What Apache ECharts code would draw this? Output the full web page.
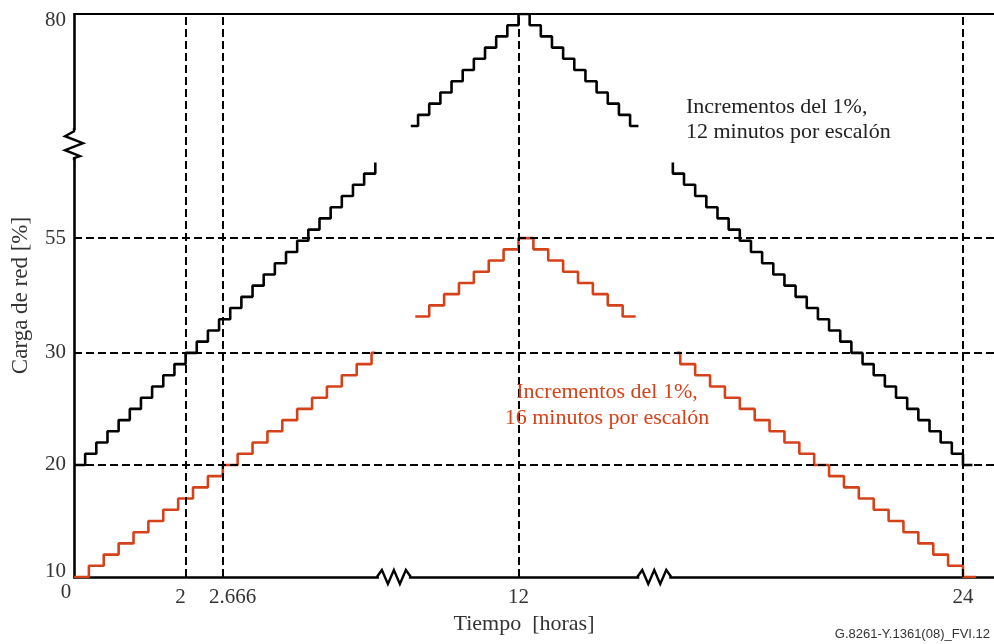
<!DOCTYPE html>
<html>
<head>
<meta charset="utf-8">
<script src="https://cdn.jsdelivr.net/npm/echarts@6/dist/echarts.min.js"></script>
<style>
html, body { margin: 0; padding: 0; background: #fff; }
#chart { width: 994px; height: 644px; }
</style>
</head>
<body>
<div id="chart"></div>
<script>
// black profile: 1 % steps every 12 min (hours, % load)
const blackRiseHours = [0, 0.2, 0.4, 0.6, 0.8, 1, 1.2, 1.4, 1.6, 1.8, 2, 2.2, 2.4, 2.6, 2.8, 3, 3.2, 3.4, 3.6, 3.8, 4, 4.2, 4.4, 4.6, 4.8, 5, 5.2, 5.4];
const blackRiseLoad = [20, 21, 22, 23, 24, 25, 26, 27, 28, 29, 30, 31, 32, 33, 34, 35, 36, 37, 38, 39, 40, 41, 42, 43, 44, 45, 46, 47];
const blackPeakHours = [10.07, 10.2, 10.4, 10.6, 10.8, 11, 11.2, 11.4, 11.6, 11.8, 12, 12.2, 12.4, 12.6, 12.8, 13, 13.2, 13.4, 13.6, 13.8, 14, 14.15];
const blackPeakLoad = [70, 71, 72, 73, 74, 75, 76, 77, 78, 79, 80, 79, 78, 77, 76, 75, 74, 73, 72, 71, 70, 70];
const blackFallHours = [18.8, 18.8, 19, 19.2, 19.4, 19.6, 19.8, 20, 20.2, 20.4, 20.6, 20.8, 21, 21.2, 21.4, 21.6, 21.8, 22, 22.2, 22.4, 22.6, 22.8, 23, 23.2, 23.4, 23.6, 23.8, 24, 24.17];
const blackFallLoad = [47, 46, 45, 44, 43, 42, 41, 40, 39, 38, 37, 36, 35, 34, 33, 32, 31, 30, 29, 28, 27, 26, 25, 24, 23, 22, 21, 20, 20];

// red profile: 1 % steps every 16 min
const redRiseHours = [0, 0.267, 0.533, 0.8, 1.067, 1.333, 1.6, 1.867, 2.133, 2.4, 2.667, 2.933, 3.2, 3.467, 3.733, 4, 4.267, 4.533, 4.8, 5.067, 5.333, 5.4];
const redRiseLoad = [10, 11, 12, 13, 14, 15, 16, 17, 18, 19, 20, 21, 22, 23, 24, 25, 26, 27, 28, 29, 30, 30];
const redPeakHours = [10.15, 10.4, 10.667, 10.933, 11.2, 11.467, 11.733, 12, 12.267, 12.533, 12.8, 13.067, 13.333, 13.6, 13.867, 14.1];
const redPeakLoad = [48, 49, 50, 51, 52, 53, 54, 55, 54, 53, 52, 51, 50, 49, 48, 48];
const redFallHours = [18.87, 18.933, 19.2, 19.467, 19.733, 20, 20.267, 20.533, 20.8, 21.067, 21.333, 21.6, 21.867, 22.133, 22.4, 22.667, 22.933, 23.2, 23.467, 23.733, 24, 24.23];
const redFallLoad = [30, 29, 28, 27, 26, 25, 24, 23, 22, 21, 20, 19, 18, 17, 16, 15, 14, 13, 12, 11, 10, 10];

// axis ticks and guide lines
const hourTicks = [0, 2, 2.666, 12, 24];
const blackLoadTicks = [10, 20, 30, 80];
const redLoadTicks = [55];
const hourGuides = [2, 2.666, 12, 24];
const blackLoadGuides = [20, 30];
const redLoadGuides = [55];

// compressed (broken) ranges
const hourBreaks = [[5.5, 10], [14.2, 18.7]];
const blackLoadBreak = [47.5, 69.5];
const redLoadBreak = [30.5, 47.5];

const SERIF = 'Liberation Serif, Times New Roman, serif';
const RED = '#d5421a';

const zip = (xs, ys) => xs.map((x, i) => [x, ys[i]]);

const chart = echarts.init(document.getElementById('chart'));

const dashed = { color: '#000', width: 2, type: [8, 4] };

const stepSeries = (name, hours, load, color, yIdx, guides) => ({
  name,
  type: 'line',
  step: 'end',
  yAxisIndex: yIdx,
  symbol: 'none',
  silent: true,
  animation: false,
  lineStyle: { color, width: 2.6 },
  data: zip(hours, load),
  markLine: guides ? {
    silent: true,
    symbol: 'none',
    label: { show: false },
    lineStyle: dashed,
    data: guides
  } : undefined
});

const xLabelStyle = { 0: 'zero', 2: 'two', 2.666: 'frac' };
const yLabelStyle = { 10: 'lo', 80: 'hi' };

const option = {
  animation: false,
  backgroundColor: '#fff',
  grid: { left: 74, right: 0, top: 14, bottom: 67, containLabel: false, outerBoundsMode: 'none' },
  xAxis: [
    {
      type: 'value',
      min: 0,
      max: 24.556,
      breaks: hourBreaks.map(b => ({ start: b[0], end: b[1], gap: '2.83%' })),
      breakArea: { show: false },
      axisLine: { show: true, lineStyle: { color: '#000', width: 2.6 } },
      axisTick: { show: false },
      splitLine: { show: false },
      axisLabel: {
        customValues: hourTicks,
        margin: 5,
        fontFamily: SERIF,
        fontSize: 21,
        color: '#333',
        formatter: v => '{' + (xLabelStyle[v] || 'n') + '|' + v + '}',
        rich: {
          n: { fontFamily: SERIF, fontSize: 21, color: '#333', padding: [5, 0, 0, 0] },
          zero: { fontFamily: SERIF, fontSize: 21, color: '#333', padding: [0, 16, 0, 0] },
          two: { fontFamily: SERIF, fontSize: 21, color: '#333', padding: [5, 10, 0, 0] },
          frac: { fontFamily: SERIF, fontSize: 21, color: '#333', padding: [5, 0, 0, 20] }
        }
      },
      name: 'Tiempo  [horas]',
      nameLocation: 'middle',
      nameGap: 36,
      nameTextStyle: { fontFamily: SERIF, fontSize: 22, color: '#333', padding: [0, 20, 0, 0] }
    },
    {
      type: 'value',
      position: 'top',
      min: 0,
      max: 24.556,
      axisLine: { show: true, lineStyle: { color: '#000', width: 2 } },
      axisTick: { show: false },
      axisLabel: { show: false },
      splitLine: { show: false }
    }
  ],
  yAxis: [
    {
      type: 'value',
      position: 'left',
      min: 10,
      max: 80,
      breaks: [{ start: blackLoadBreak[0], end: blackLoadBreak[1], gap: '4.46%' }],
      breakArea: { show: false },
      axisLine: { show: true, lineStyle: { color: '#000', width: 2.6 } },
      axisTick: { show: false },
      splitLine: { show: false },
      axisLabel: {
        customValues: blackLoadTicks,
        margin: 8,
        fontFamily: SERIF,
        fontSize: 21,
        color: '#333',
        formatter: v => '{' + (yLabelStyle[v] || 'n') + '|' + v + '}',
        rich: {
          n: { fontFamily: SERIF, fontSize: 21, color: '#333' },
          lo: { fontFamily: SERIF, fontSize: 21, color: '#333', padding: [0, 0, 12, 0] },
          hi: { fontFamily: SERIF, fontSize: 21, color: '#333', padding: [12, 0, 0, 0] }
        }
      },
      name: 'Carga de red [%]',
      nameLocation: 'middle',
      nameRotate: 90,
      nameGap: 42,
      nameTextStyle: { fontFamily: SERIF, fontSize: 23, color: '#333' }
    },
    {
      type: 'value',
      position: 'left',
      offset: 0,
      min: 10,
      max: 75,
      breaks: [{ start: redLoadBreak[0], end: redLoadBreak[1], gap: '4.46%' }],
      breakArea: { show: false },
      axisLine: { show: false },
      axisTick: { show: false },
      splitLine: { show: false },
      axisLabel: {
        customValues: redLoadTicks,
        margin: 8,
        fontFamily: SERIF,
        fontSize: 21,
        color: '#333'
      }
    }
  ],
  series: [
    stepSeries('negro-subida', blackRiseHours, blackRiseLoad, '#000', 0,
      hourGuides.map(v => ({ xAxis: v })).concat(blackLoadGuides.map(v => ({ yAxis: v })))),
    stepSeries('negro-pico', blackPeakHours, blackPeakLoad, '#000', 0),
    stepSeries('negro-bajada', blackFallHours, blackFallLoad, '#000', 0),
    stepSeries('rojo-subida', redRiseHours, redRiseLoad, RED, 1),
    stepSeries('rojo-pico', redPeakHours, redPeakLoad, RED, 1, redLoadGuides.map(v => ({ yAxis: v }))),
    stepSeries('rojo-bajada', redFallHours, redFallLoad, RED, 1)
  ]
};

chart.setOption(option);

// break marks drawn on the axis lines at the compressed ranges
const zig = [];
const x0 = chart.convertToPixel({ yAxisIndex: 0 }, 10);
hourBreaks.forEach(b => {
  const a = chart.convertToPixel({ xAxisIndex: 0 }, b[0]);
  const c = chart.convertToPixel({ xAxisIndex: 0 }, b[1]);
  const cx = (a + c) / 2;
  zig.push({ type: 'rect', z: 99, shape: { x: cx - 15, y: x0 - 3, width: 30, height: 6 }, style: { fill: '#fff' } });
  zig.push({
    type: 'polyline', z: 100,
    shape: { points: [[cx - 17, x0], [cx - 12, x0 - 7], [cx - 6, x0 + 7], [cx, x0 - 7], [cx + 6, x0 + 7], [cx + 12, x0 - 7], [cx + 17, x0]] },
    style: { stroke: '#000', lineWidth: 2.4, fill: null }
  });
});
const yx = chart.convertToPixel({ xAxisIndex: 0 }, 0);
const ya = chart.convertToPixel({ yAxisIndex: 0 }, blackLoadBreak[0]);
const yc = chart.convertToPixel({ yAxisIndex: 0 }, blackLoadBreak[1]);
const cy = (ya + yc) / 2;
zig.push({ type: 'rect', z: 99, shape: { x: yx - 3, y: cy - 14, width: 6, height: 28 }, style: { fill: '#fff' } });
zig.push({
  type: 'polyline', z: 100,
  shape: { points: [[yx, cy - 16], [yx, cy - 13], [yx - 9, cy - 8], [yx + 9, cy - 1], [yx - 9, cy + 6], [yx + 6, cy + 12], [yx, cy + 14], [yx, cy + 16]] },
  style: { stroke: '#000', lineWidth: 2.4, fill: null }
});

zig.push({
  type: 'text', x: 686, y: 95, z: 100,
  style: { text: 'Incrementos del 1%,\n12 minutos por escalón', font: '22px ' + SERIF, fill: '#222', lineHeight: 25 }
});
zig.push({
  type: 'text', x: 607, y: 379, z: 100,
  style: { text: 'Incrementos del 1%,\n16 minutos por escalón', font: '22px ' + SERIF, fill: RED, lineHeight: 26, align: 'center' }
});
zig.push({
  type: 'text', right: 4, bottom: 3, z: 100,
  style: { text: 'G.8261-Y.1361(08)_FVI.12', font: '13px Liberation Sans, Arial, sans-serif', fill: '#333' }
});

chart.setOption({ graphic: zig });
</script>
</body>
</html>
